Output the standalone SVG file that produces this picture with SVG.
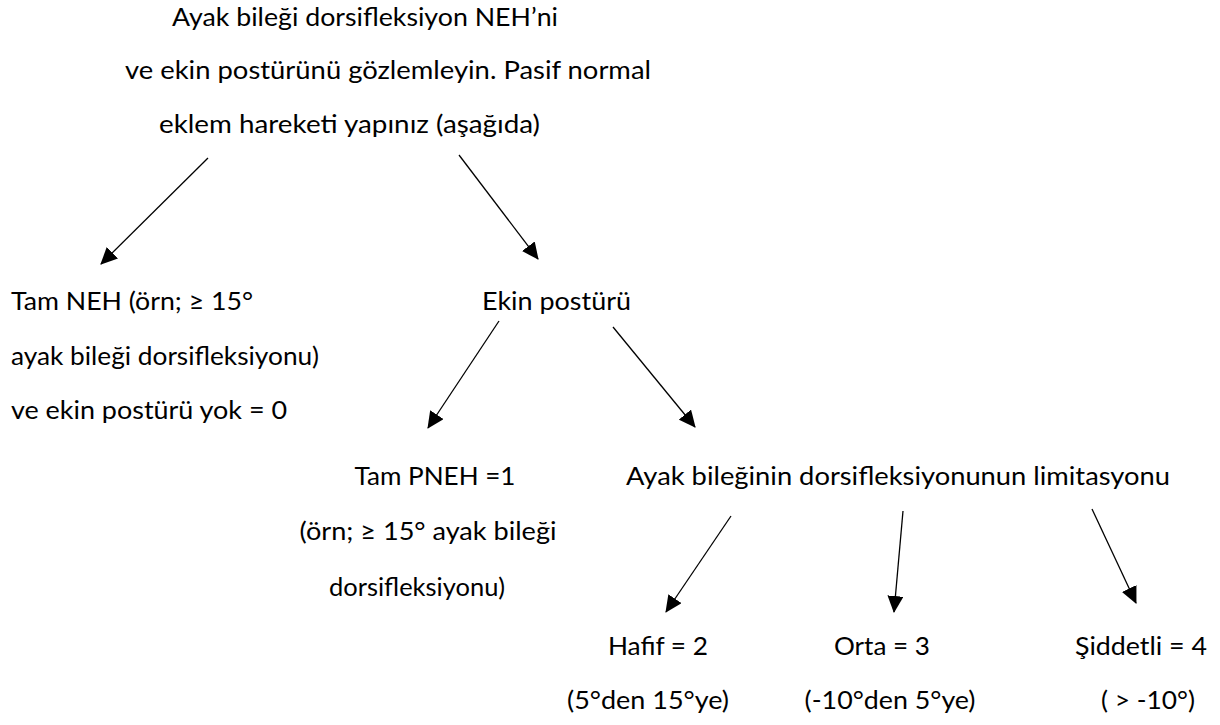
<svg xmlns="http://www.w3.org/2000/svg" width="1220" height="725" viewBox="0 0 1220 725">
<defs>
<style>
text{font-family:Lato,"Open Sans","Noto Sans",sans-serif;font-size:25px;fill:#000}
.c{text-anchor:middle}
.ln{stroke:#000;stroke-width:1.3;fill:none;marker-end:url(#ah)}
</style>
<marker id="ah" markerUnits="userSpaceOnUse" markerWidth="17" markerHeight="16" refX="16" refY="8" orient="auto">
<path d="M0,0 L17,8 L0,16 Z" fill="#000"/>
</marker>
</defs>
<rect width="1220" height="725" fill="#fff"/>
<g id="n-top">
<text x="172" y="26" textLength="386" lengthAdjust="spacingAndGlyphs">Ayak bileği dorsifleksiyon NEH’ni</text>
<text x="125" y="79" textLength="526" lengthAdjust="spacingAndGlyphs">ve ekin postürünü gözlemleyin. Pasif normal</text>
<text x="159" y="133" textLength="381" lengthAdjust="spacingAndGlyphs">eklem hareketi yapınız (aşağıda)</text>
</g>
<g id="n-tam-neh">
<text x="11" y="310" textLength="242" lengthAdjust="spacingAndGlyphs">Tam NEH (örn; ≥ 15°</text>
<text x="11" y="365" textLength="308" lengthAdjust="spacingAndGlyphs">ayak bileği dorsifleksiyonu)</text>
<text x="11" y="419" textLength="276" lengthAdjust="spacingAndGlyphs">ve ekin postürü yok = 0</text>
</g>
<g id="n-ekin">
<text x="482" y="310" textLength="149" lengthAdjust="spacingAndGlyphs">Ekin postürü</text>
</g>
<g id="n-tam-pneh">
<text class="c" x="435" y="485" textLength="161" lengthAdjust="spacingAndGlyphs">Tam PNEH =1</text>
<text class="c" x="428" y="540" textLength="257" lengthAdjust="spacingAndGlyphs">(örn; ≥ 15° ayak bileği</text>
<text class="c" x="417" y="596" textLength="176" lengthAdjust="spacingAndGlyphs">dorsifleksiyonu)</text>
</g>
<g id="n-limit">
<text x="626" y="485" textLength="544" lengthAdjust="spacingAndGlyphs">Ayak bileğinin dorsifleksiyonunun limitasyonu</text>
</g>
<g id="n-hafif">
<text class="c" x="658" y="655" textLength="100" lengthAdjust="spacingAndGlyphs">Hafif = 2</text>
<text class="c" x="648" y="709" textLength="162" lengthAdjust="spacingAndGlyphs">(5°den 15°ye)</text>
</g>
<g id="n-orta">
<text class="c" x="882" y="655" textLength="96" lengthAdjust="spacingAndGlyphs">Orta = 3</text>
<text class="c" x="890" y="709" textLength="171" lengthAdjust="spacingAndGlyphs">(-10°den 5°ye)</text>
</g>
<g id="n-siddetli">
<text class="c" x="1141" y="655" textLength="132" lengthAdjust="spacingAndGlyphs">Şiddetli = 4</text>
<text class="c" x="1148" y="709" textLength="94" lengthAdjust="spacingAndGlyphs">( &gt; -10°)</text>
</g>
<g id="connectors">
<line class="ln" x1="208" y1="158" x2="101" y2="264"/>
<line class="ln" x1="459" y1="155" x2="538" y2="259"/>
<line class="ln" x1="499" y1="321" x2="428" y2="428"/>
<line class="ln" x1="613" y1="327" x2="695" y2="427"/>
<line class="ln" x1="731" y1="516" x2="666" y2="612"/>
<line class="ln" x1="903" y1="511" x2="894" y2="612"/>
<line class="ln" x1="1092" y1="509" x2="1136" y2="603"/>
</g>
</svg>
